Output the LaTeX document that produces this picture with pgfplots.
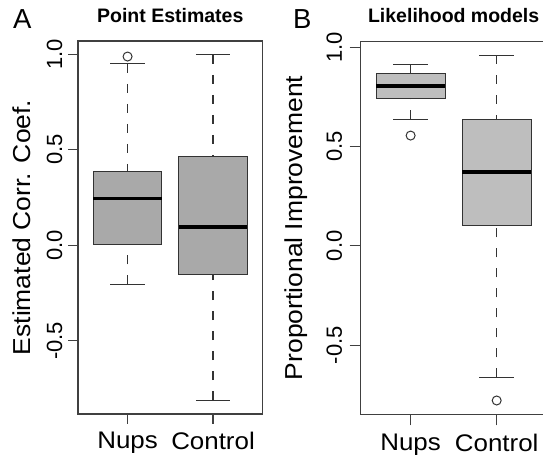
\documentclass[border=0pt]{standalone}
\usepackage{pgfplots}
\pgfplotsset{compat=1.18}
\usepgfplotslibrary{statistics}
\usepackage{fontspec}
\setmainfont{Liberation Sans}
\newfontfamily\labfont[FakeStretch=1.08]{Liberation Sans}
\definecolor{boxA}{HTML}{A9A9A9}
\definecolor{boxB}{HTML}{BEBEBE}
\definecolor{framec}{HTML}{404040}
\definecolor{edgec}{HTML}{333333}
\pgfplotsset{
  rbox/.style={
    scale only axis, height=373pt,
    axis line style={framec, line width=1.1pt},
    xmin=0.42, xmax=2.58,
    xtick={1,2}, xticklabels={Nups,Control},
    xtick pos=bottom, ytick pos=left,
    tick align=outside, major tick length=9.5pt,
    every tick/.style={framec, line width=1.1pt},
    ytick={-0.5,0,0.5,1},
    yticklabels={-0.5,0.0,0.5,1.0},
    xticklabel style={font=\labfont\fontsize{24}{28}\selectfont, anchor=north, inner sep=0pt, yshift=-8.5pt},
    label style={font=\labfont\fontsize{24.5}{28}\selectfont},
    title style={font=\bfseries\fontsize{19.5}{23}\selectfont, at={(axis description cs:0.5,1)}, anchor=base, yshift=13pt},
    boxplot/draw direction=y,
    boxplot/box extend=0.8,
    boxplot/whisker extend=0.4,
    boxplot/every median/.style={line width=3.8pt, black},
    boxplot/draw/lower whisker/.code={%
      \draw[dash pattern=on 9pt off 11pt, line width=1.1pt, edgec]
        (boxplot cs:\pgfplotsboxplotvalue{lower whisker}) -- (boxplot cs:\pgfplotsboxplotvalue{lower quartile});
      \draw[line width=1.1pt, edgec]
        (boxplot whisker cs:\pgfplotsboxplotvalue{lower whisker},0) -- (boxplot whisker cs:\pgfplotsboxplotvalue{lower whisker},1);
    },
    boxplot/draw/upper whisker/.code={%
      \draw[dash pattern=on 9pt off 11pt, line width=1.1pt, edgec]
        (boxplot cs:\pgfplotsboxplotvalue{upper whisker}) -- (boxplot cs:\pgfplotsboxplotvalue{upper quartile});
      \draw[line width=1.1pt, edgec]
        (boxplot whisker cs:\pgfplotsboxplotvalue{upper whisker},0) -- (boxplot whisker cs:\pgfplotsboxplotvalue{upper whisker},1);
    },
    bx/.style={solid, draw=edgec, line width=1pt, mark=o, mark size=4.5pt, mark options={solid, edgec, line width=1pt}},
  }
}
\begin{document}
\begin{tikzpicture}
% Panel A
\begin{axis}[rbox, width=184.6pt, at={(78pt,-414pt)}, anchor=south west,
  ymin=-0.8833, ymax=1.0683,
  yticklabel style={font=\fontsize{22}{26}\selectfont, inner sep=0pt, anchor=south, xshift=-6pt, rotate=90},
  title={Point Estimates},
  ylabel={Estimated Corr. Coef.},
  ylabel style={at={(axis description cs:-0.306,0.5)}, anchor=center},
  boxplot/every box/.style={fill=boxA, draw=edgec, line width=1pt},
  clip=false]
\addplot[bx, boxplot prepared={draw position=1, lower whisker=-0.205, lower quartile=0.004, median=0.244, upper quartile=0.386, upper whisker=0.949}]
  table[row sep=\\, y index=0] {y\\ 0.987\\};
\addplot[bx, boxplot prepared={draw position=2, lower whisker=-0.811, lower quartile=-0.151, median=0.096, upper quartile=0.465, upper whisker=0.996}]
  coordinates {};
\node[anchor=base west, inner sep=0pt, font=\fontsize{27.5}{30}\selectfont] at (axis description cs:-0.352,1.034) {A};
\end{axis}
% Panel B
\begin{axis}[rbox, width=185.9pt, at={(360.7pt,-414.3pt)}, anchor=south west,
  ymin=-0.8486, ymax=1.0296,
  major tick length=11pt,
  yticklabel style={font=\fontsize{22}{26}\selectfont, inner sep=0pt, anchor=south, xshift=-7.5pt, rotate=90},
  title={Likelihood models},
  ylabel={Proportional Improvement},
  ylabel style={at={(axis description cs:-0.345,0.5)}, anchor=center},
  boxplot/every box/.style={fill=boxB, draw=edgec, line width=1pt},
  clip=false]
\addplot[bx, boxplot prepared={draw position=1, lower whisker=0.636, lower quartile=0.743, median=0.806, upper quartile=0.865, upper whisker=0.913}]
  table[row sep=\\, y index=0] {y\\ 0.555\\};
\addplot[bx, boxplot prepared={draw position=2, lower whisker=-0.662, lower quartile=0.104, median=0.370, upper quartile=0.634, upper whisker=0.960}]
  table[row sep=\\, y index=0] {y\\ -0.779\\};
\node[anchor=base west, inner sep=0pt, font=\fontsize{27.5}{30}\selectfont] at (axis description cs:-0.364,1.034) {B};
\end{axis}
\pgfresetboundingbox
\path[use as bounding box] (0pt,0pt) rectangle (543pt,-456pt);
\end{tikzpicture}
\end{document}
